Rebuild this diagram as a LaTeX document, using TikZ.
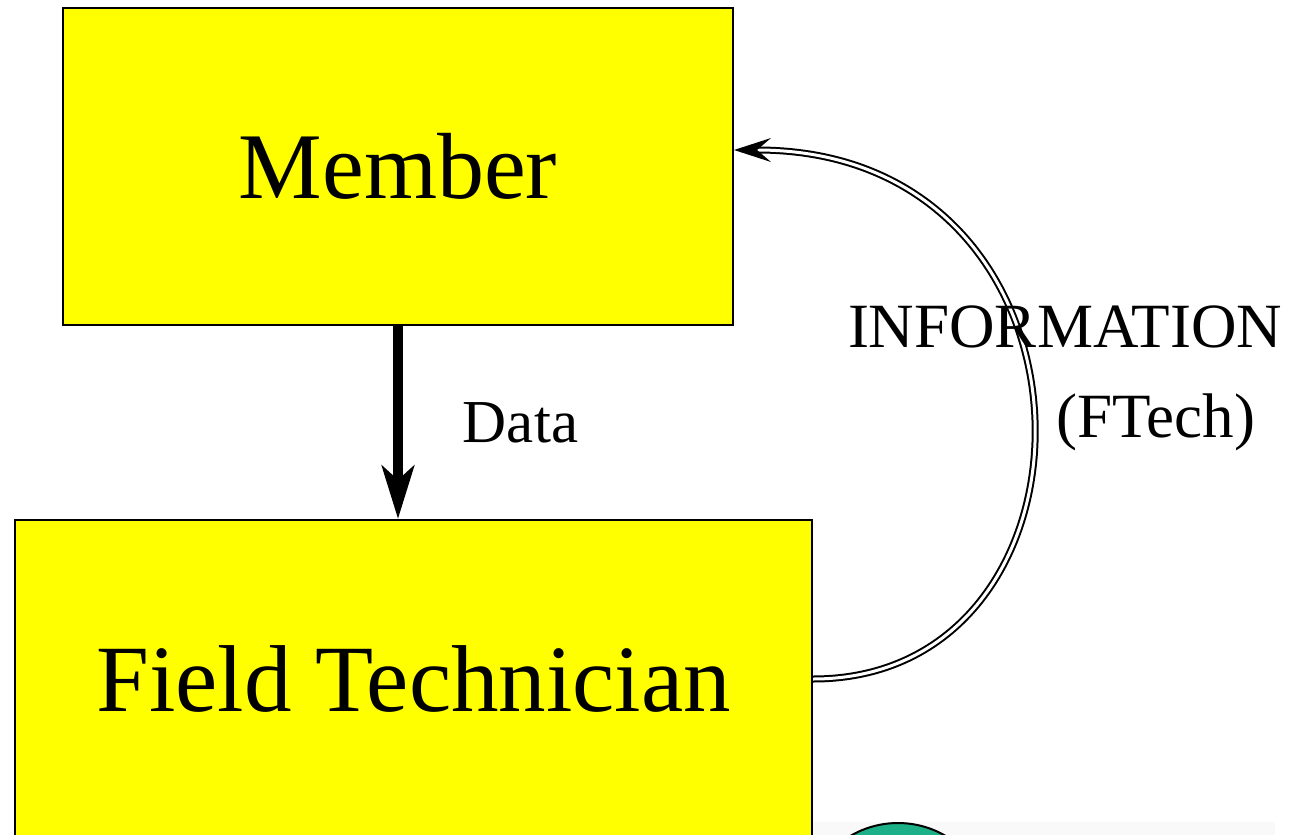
\documentclass[tikz,border=0pt]{standalone}
\usepackage{fontspec}
\setmainfont{Liberation Serif}
\usetikzlibrary{arrows.meta,calc}
\definecolor{boxyellow}{RGB}{255,255,0}
\definecolor{teal1}{RGB}{27,176,135}
\definecolor{pale}{RGB}{249,249,249}
\tikzset{
  boxnode/.style={draw=black,line width=2pt,fill=boxyellow,inner sep=0pt},
  bigtext/.style={font=\fontsize{94}{100}\selectfont},
  labtext/.style={font=\fontsize{63}{70}\selectfont,inner sep=0pt,anchor=base},
  dataarrow/.style={line width=10pt,-{Stealth[length=53pt,width=32pt,inset=14pt]}},
  infoarrow/.style={line width=2pt,double=white,double distance=3pt,-{Stealth[length=37pt,width=24pt,inset=14pt,line width=0pt]}},
}
\begin{document}
\begin{tikzpicture}[x=1pt,y=-1pt]
\useasboundingbox (0,0) rectangle (1304,835);
\fill[white] (0,0) rectangle (1304,835);
\clip (0,0) rectangle (1304,835);
% background pale panel and circle
\fill[pale] (813,822) rectangle (1275,840);
\node[draw=black,line width=2pt,fill=teal1,circle,minimum size=188pt,inner sep=0pt] (disc) at (898,917) {};
% boxes
\node[boxnode,minimum width=670pt,minimum height=317pt,bigtext] (mem) at (398,166.5) {Member};
\node[boxnode,minimum width=797pt,minimum height=318pt,font=\fontsize{95}{100}\selectfont] (ft) at (413.5,679) {Field Technician};
% data arrow
\draw[dataarrow] (mem.south) -- (mem.south |- ft.north);
\node[labtext,font=\fontsize{61}{66}\selectfont] (data) at (520.5,442) {Data};
% information arrow
\draw[infoarrow] (ft.east) .. controls (1118,679) and (1118,150) .. ([yshift=16.5pt]mem.east);
\node[labtext] (info) at (1065,347) {INFORMATION};
\node[labtext] (ftech) at (1156,437) {(FTech)};
\end{tikzpicture}
\end{document}
